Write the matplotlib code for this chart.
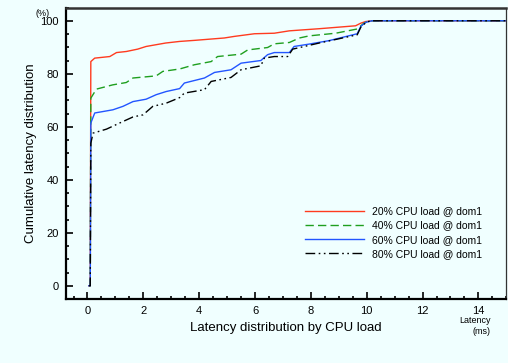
import matplotlib
matplotlib.use("Agg")
import matplotlib.pyplot as plt
from matplotlib.ticker import MultipleLocator

plt.rcParams["font.family"] = ["Liberation Sans", "DejaVu Sans"]

# CDF points (latency in ms, cumulative %)
x20 = [0.05, 0.1, 0.12, 0.26, 0.8, 1.04, 1.39, 1.8, 2.1, 2.8, 3.3, 3.83, 4.9, 5.26,
       5.98, 6.69, 7.23, 8.3, 9.6, 9.79, 9.96, 10.2, 15]
y20 = [0, 0, 84.6, 85.9, 86.5, 88, 88.4, 89.3, 90.3, 91.6, 92.2, 92.6, 93.5, 94.1,
       95.1, 95.3, 96.2, 97, 98.1, 99.1, 99.7, 100, 100]

x40 = [0.05, 0.1, 0.12, 0.32, 0.9, 1.39, 1.63, 2.46, 2.7, 3.3, 3.83, 4.43, 4.66, 5.5,
       5.74, 6.45, 6.69, 7.23, 7.59, 7.94, 8.89, 9.66, 9.9, 10.1, 15]
y40 = [0, 0, 70.8, 74.2, 75.8, 76.7, 78.4, 79.2, 80.9, 81.8, 83.4, 84.6, 86.5, 87.4,
       89, 89.9, 91.3, 91.8, 93.5, 94.3, 95.3, 96.9, 99.1, 100, 100]

x60 = [0.05, 0.1, 0.12, 0.26, 0.91, 1.27, 1.63, 2.1, 2.46, 2.82, 3.3, 3.47, 4.19, 4.55,
       5.14, 5.5, 6.21, 6.45, 6.69, 7.23, 7.4, 7.94, 8.65, 9.66, 9.79, 9.96, 10.2, 15]
y60 = [0, 0, 61.4, 65.2, 66.4, 67.7, 69.5, 70.4, 72.1, 73.3, 74.4, 76.5, 78.4, 80.5,
       81.5, 84, 85, 87.2, 88, 88, 90.3, 91.2, 92.5, 95.1, 97.9, 99.4, 100, 100]

x80 = [0.05, 0.1, 0.12, 0.2, 0.68, 1.15, 1.63, 1.99, 2.34, 2.82, 3.3, 3.47, 4.19, 4.43,
       5.14, 5.5, 6.21, 6.33, 6.69, 7.17, 7.35, 8.3, 9.66, 9.79, 10.0, 10.2, 15]
y80 = [0, 0, 53.8, 57.6, 59.1, 61.4, 63.7, 64.5, 67.7, 68.9, 71, 72.7, 74, 77.1,
       78.6, 81.5, 83, 85.9, 86.5, 86.5, 89.3, 91.6, 94.7, 97.6, 99.6, 100, 100]

labels = ["20% CPU load @ dom1", "40% CPU load @ dom1",
          "60% CPU load @ dom1", "80% CPU load @ dom1"]

bg = "#f0ffff"
fig = plt.figure(figsize=(5.08, 3.63), dpi=100, facecolor=bg)
ax = fig.add_axes([0.1293, 0.1763, 0.8674, 0.803], facecolor=bg)

ax.plot(x20, y20, color="#ff3b1f", lw=1.0, label=labels[0])
ax.plot(x40, y40, color="#1f9f1f", lw=1.0, ls=(0, (6, 3)), label=labels[1])
ax.plot(x60, y60, color="#2255ff", lw=1.0, label=labels[2])
ax.plot(x80, y80, color="#000000", lw=1.0, ls=(0, (7, 2.5, 1.2, 2.5, 1.2, 2.5)),
        label=labels[3])

ax.set_xlim(-0.78, 15)
ax.set_ylim(-5, 105)
ax.xaxis.set_major_locator(MultipleLocator(2))
ax.xaxis.set_minor_locator(MultipleLocator(0.5))
ax.yaxis.set_major_locator(MultipleLocator(20))
ax.yaxis.set_minor_locator(MultipleLocator(5))
ax.tick_params(which="both", direction="in", top=False, right=False,
               labelsize=8, width=1.2, color="black")
ax.tick_params(which="major", length=5, pad=5)
ax.tick_params(which="minor", length=2.5)

for side in ["left", "bottom"]:
    ax.spines[side].set_linewidth(1.6)
    ax.spines[side].set_color("black")
ax.spines["top"].set_linewidth(1.8)
ax.spines["top"].set_color("#333333")
ax.spines["right"].set_linewidth(0.9)
ax.spines["right"].set_color("#333333")

ax.set_xlabel("Latency distribution by CPU load", fontsize=9.5, labelpad=4)
ax.set_ylabel("Cumulative latency distribution", fontsize=9.5)
ax.yaxis.set_label_coords(-0.065, 0.5)

fig.text(42.5 / 508, 1 - 13 / 363, "(%)", fontsize=6.5, ha="center", va="center")
fig.text(490.5 / 508, 1 - 326 / 363, "Latency\n(ms)", fontsize=6.5, ha="right",
         va="center", multialignment="right", linespacing=1.3)

ax.legend(loc="center left", bbox_to_anchor=(0.543, 0.228), frameon=False,
          fontsize=7.5, borderpad=0, borderaxespad=0, handlelength=5.7,
          handletextpad=0.75, labelspacing=0.4)

fig.savefig("out.png", dpi=100, facecolor=bg)
